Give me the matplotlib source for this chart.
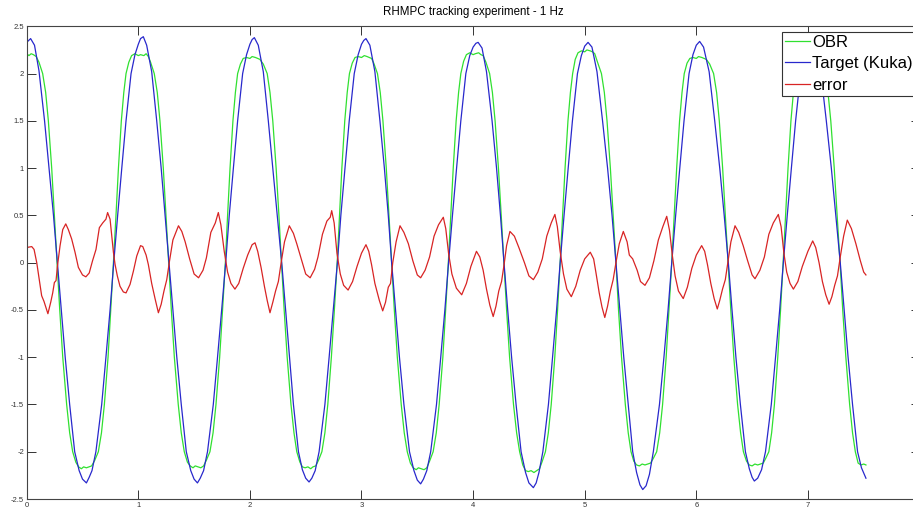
import numpy as np
import matplotlib.pyplot as plt

plt.rcParams['font.family'] = ['Liberation Sans', 'DejaVu Sans']
plt.rcParams['axes.unicode_minus'] = False

title = 'RHMPC tracking experiment - 1 Hz'
labels = ['OBR', 'Target (Kuka)', 'error']
x_ticks = [0, 1, 2, 3, 4, 5, 6, 7]
y_ticks = [-2.5, -2, -1.5, -1, -0.5, 0, 0.5, 1, 1.5, 2, 2.5]
y_tick_labels = ['-2.5', '-2', '-1.5', '-1', '-0.5', '0', '0.5', '1', '1.5', '2', '2.5']

# (time, value) pairs
obr = np.array([
    (0.00, 2.21), (0.02, 2.19), (0.04, 2.21), (0.06, 2.20), (0.085, 2.18), (0.11, 2.12),
    (0.143, 2.00), (0.17, 1.80), (0.194, 1.50), (0.224, 1.00), (0.248, 0.50), (0.272, 0.00),
    (0.296, -0.50), (0.323, -1.00), (0.358, -1.50), (0.385, -1.80), (0.412, -2.00), (0.44, -2.11),
    (0.465, -2.16), (0.49, -2.18), (0.51, -2.16), (0.535, -2.17), (0.56, -2.16), (0.582, -2.15),
    (0.61, -2.09), (0.642, -2.00), (0.67, -1.80), (0.696, -1.50), (0.729, -1.00), (0.753, -0.50),
    (0.777, 0.00), (0.80, 0.50), (0.822, 1.00), (0.848, 1.50), (0.87, 1.80), (0.89, 2.00),
    (0.915, 2.12), (0.94, 2.19), (0.97, 2.21), (1.00, 2.19), (1.02, 2.20), (1.05, 2.19),
    (1.07, 2.21), (1.09, 2.18),
    (1.11, 2.12), (1.143, 2.00), (1.17, 1.80), (1.194, 1.50), (1.224, 1.00), (1.248, 0.50),
    (1.272, 0.00), (1.296, -0.50), (1.323, -1.00), (1.358, -1.50), (1.385, -1.80), (1.412, -2.00),
    (1.44, -2.11), (1.465, -2.15), (1.49, -2.17), (1.51, -2.15), (1.535, -2.16), (1.56, -2.17),
    (1.585, -2.15), (1.61, -2.09), (1.642, -2.00), (1.67, -1.80), (1.696, -1.50), (1.729, -1.00),
    (1.755, -0.50), (1.78, 0.00), (1.80, 0.50), (1.822, 1.00), (1.848, 1.50), (1.87, 1.80),
    (1.89, 2.00), (1.915, 2.10), (1.94, 2.16), (1.97, 2.17), (2.00, 2.16), (2.02, 2.18),
    (2.05, 2.17), (2.07, 2.16), (2.09, 2.15),
    (2.12, 2.10), (2.155, 2.00), (2.18, 1.80), (2.205, 1.50), (2.235, 1.00), (2.26, 0.50),
    (2.283, 0.00), (2.307, -0.50), (2.334, -1.00), (2.368, -1.50), (2.395, -1.80), (2.42, -2.00),
    (2.448, -2.11), (2.47, -2.16), (2.495, -2.17), (2.52, -2.16), (2.545, -2.18), (2.565, -2.16),
    (2.59, -2.15), (2.615, -2.09), (2.645, -2.00), (2.672, -1.80), (2.698, -1.50), (2.73, -1.00),
    (2.757, -0.50), (2.782, 0.00), (2.803, 0.50), (2.824, 1.00), (2.85, 1.50), (2.872, 1.80),
    (2.892, 2.00), (2.917, 2.11), (2.942, 2.17), (2.97, 2.18), (3.00, 2.17), (3.025, 2.19),
    (3.05, 2.18), (3.07, 2.17), (3.09, 2.16),
    (3.11, 2.11), (3.143, 2.00), (3.168, 1.80), (3.192, 1.50), (3.222, 1.00), (3.246, 0.50),
    (3.27, 0.00), (3.294, -0.50), (3.321, -1.00), (3.356, -1.50), (3.383, -1.80), (3.41, -2.00),
    (3.438, -2.12), (3.463, -2.17), (3.49, -2.19), (3.51, -2.17), (3.535, -2.18), (3.56, -2.19),
    (3.585, -2.17), (3.61, -2.10), (3.642, -2.00), (3.67, -1.80), (3.696, -1.50), (3.729, -1.00),
    (3.754, -0.50), (3.778, 0.00), (3.80, 0.50), (3.822, 1.00), (3.848, 1.50), (3.87, 1.80),
    (3.89, 2.00), (3.915, 2.13), (3.94, 2.20), (3.97, 2.22), (4.00, 2.20), (4.02, 2.21),
    (4.05, 2.22), (4.07, 2.20), (4.09, 2.19),
    (4.115, 2.12), (4.148, 2.00), (4.173, 1.80), (4.197, 1.50), (4.227, 1.00), (4.252, 0.50),
    (4.276, 0.00), (4.30, -0.50), (4.327, -1.00), (4.362, -1.50), (4.39, -1.80), (4.417, -2.00),
    (4.445, -2.14), (4.47, -2.20), (4.495, -2.21), (4.52, -2.20), (4.545, -2.22), (4.57, -2.20),
    (4.595, -2.18), (4.62, -2.10), (4.648, -2.00), (4.674, -1.80), (4.70, -1.50), (4.732, -1.00),
    (4.757, -0.50), (4.78, 0.00), (4.802, 0.50), (4.824, 1.00), (4.85, 1.50), (4.872, 1.80),
    (4.892, 2.00), (4.915, 2.15), (4.94, 2.22), (4.97, 2.24), (5.00, 2.23), (5.02, 2.25),
    (5.05, 2.24), (5.07, 2.23), (5.09, 2.21),
    (5.115, 2.12), (5.15, 2.00), (5.176, 1.80), (5.20, 1.50), (5.23, 1.00), (5.255, 0.50),
    (5.28, 0.00), (5.303, -0.50), (5.33, -1.00), (5.364, -1.50), (5.39, -1.80), (5.415, -2.00),
    (5.44, -2.10), (5.465, -2.14), (5.49, -2.15), (5.515, -2.13), (5.54, -2.14), (5.565, -2.13),
    (5.59, -2.12), (5.615, -2.07), (5.645, -2.00), (5.672, -1.80), (5.698, -1.50), (5.73, -1.00),
    (5.755, -0.50), (5.78, 0.00), (5.802, 0.50), (5.824, 1.00), (5.85, 1.50), (5.872, 1.80),
    (5.892, 2.00), (5.917, 2.11), (5.942, 2.16), (5.97, 2.17), (6.00, 2.16), (6.02, 2.18),
    (6.05, 2.17), (6.07, 2.16), (6.09, 2.15),
    (6.12, 2.10), (6.155, 2.00), (6.182, 1.80), (6.206, 1.50), (6.236, 1.00), (6.26, 0.50),
    (6.285, 0.00), (6.309, -0.50), (6.336, -1.00), (6.37, -1.50), (6.397, -1.80), (6.422, -2.00),
    (6.45, -2.10), (6.475, -2.14), (6.50, -2.15), (6.525, -2.13), (6.55, -2.14), (6.575, -2.13),
    (6.60, -2.12), (6.622, -2.07), (6.65, -2.00), (6.675, -1.80), (6.70, -1.50), (6.73, -1.00),
    (6.755, -0.50), (6.778, 0.00), (6.80, 0.50), (6.822, 1.00), (6.848, 1.50), (6.87, 1.80),
    (6.89, 2.00), (6.915, 2.12), (6.94, 2.18), (6.97, 2.20), (7.00, 2.19), (7.02, 2.20),
    (7.05, 2.19), (7.07, 2.18), (7.09, 2.16),
    (7.12, 2.10), (7.155, 2.00), (7.18, 1.80), (7.205, 1.50), (7.236, 1.00), (7.262, 0.50),
    (7.288, 0.00), (7.312, -0.50), (7.34, -1.00), (7.374, -1.50), (7.40, -1.80), (7.425, -2.00),
    (7.45, -2.12), (7.475, -2.14), (7.50, -2.13), (7.52, -2.14),
])

kuka = np.array([
    (0.00, 2.33), (0.035, 2.37), (0.07, 2.30), (0.11, 2.03), (0.16, 1.50), (0.20, 1.00),
    (0.24, 0.50), (0.275, 0.00), (0.31, -0.50), (0.345, -1.00), (0.385, -1.50), (0.43, -2.00),
    (0.47, -2.20), (0.50, -2.29), (0.535, -2.33), (0.56, -2.27), (0.585, -2.20), (0.62, -2.00),
    (0.672, -1.50), (0.71, -1.00), (0.747, -0.50), (0.78, 0.00), (0.815, 0.50), (0.852, 1.00),
    (0.89, 1.50), (0.935, 2.00), (0.97, 2.20), (1.00, 2.31), (1.02, 2.37), (1.045, 2.39),
    (1.075, 2.30), (1.12, 2.02), (1.165, 1.50), (1.205, 1.00), (1.24, 0.50), (1.275, 0.00),
    (1.31, -0.50), (1.345, -1.00), (1.385, -1.50), (1.43, -2.00), (1.47, -2.20), (1.50, -2.29),
    (1.53, -2.33), (1.555, -2.28), (1.585, -2.20), (1.62, -2.00), (1.672, -1.50), (1.71, -1.00),
    (1.747, -0.50), (1.783, 0.00), (1.815, 0.50), (1.852, 1.00), (1.89, 1.50), (1.935, 2.00),
    (1.97, 2.20), (2.00, 2.31), (2.02, 2.36), (2.04, 2.38),
    (2.075, 2.30), (2.12, 2.02), (2.165, 1.50), (2.205, 1.00), (2.245, 0.50), (2.285, 0.00),
    (2.32, -0.50), (2.355, -1.00), (2.39, -1.50), (2.435, -2.00), (2.47, -2.19), (2.50, -2.28),
    (2.53, -2.32), (2.555, -2.28), (2.585, -2.20), (2.62, -2.00), (2.672, -1.50), (2.71, -1.00),
    (2.747, -0.50), (2.784, 0.00), (2.815, 0.50), (2.852, 1.00), (2.89, 1.50), (2.935, 2.00),
    (2.97, 2.20), (3.00, 2.31), (3.02, 2.35), (3.04, 2.37),
    (3.075, 2.30), (3.12, 2.02), (3.165, 1.50), (3.205, 1.00), (3.24, 0.50), (3.27, 0.00),
    (3.305, -0.50), (3.34, -1.00), (3.38, -1.50), (3.43, -2.00), (3.47, -2.20), (3.50, -2.30),
    (3.53, -2.34), (3.555, -2.29), (3.585, -2.20), (3.62, -2.00), (3.672, -1.50), (3.71, -1.00),
    (3.747, -0.50), (3.78, 0.00), (3.815, 0.50), (3.852, 1.00), (3.89, 1.50), (3.935, 2.00),
    (3.97, 2.19), (4.00, 2.28), (4.025, 2.32), (4.045, 2.33),
    (4.08, 2.27), (4.12, 2.02), (4.17, 1.50), (4.21, 1.00), (4.245, 0.50), (4.277, 0.00),
    (4.31, -0.50), (4.345, -1.00), (4.385, -1.50), (4.43, -2.00), (4.47, -2.22), (4.50, -2.33),
    (4.54, -2.38), (4.565, -2.33), (4.59, -2.22), (4.625, -2.00), (4.675, -1.50), (4.712, -1.00),
    (4.748, -0.50), (4.78, 0.00), (4.815, 0.50), (4.852, 1.00), (4.89, 1.50), (4.935, 2.00),
    (4.97, 2.19), (5.00, 2.29), (5.03, 2.33),
    (5.065, 2.28), (5.11, 2.02), (5.16, 1.50), (5.205, 1.00), (5.245, 0.50), (5.28, 0.00),
    (5.315, -0.50), (5.35, -1.00), (5.39, -1.50), (5.43, -2.00), (5.465, -2.22), (5.495, -2.35),
    (5.52, -2.40), (5.55, -2.36), (5.58, -2.24), (5.615, -2.00), (5.67, -1.50), (5.71, -1.00),
    (5.747, -0.50), (5.78, 0.00), (5.815, 0.50), (5.852, 1.00), (5.89, 1.50), (5.935, 2.00),
    (5.97, 2.20), (6.00, 2.30), (6.03, 2.34),
    (6.065, 2.28), (6.115, 2.02), (6.165, 1.50), (6.21, 1.00), (6.25, 0.50), (6.287, 0.00),
    (6.32, -0.50), (6.355, -1.00), (6.395, -1.50), (6.44, -2.00), (6.475, -2.18), (6.50, -2.27),
    (6.52, -2.31), (6.55, -2.28), (6.585, -2.19), (6.62, -2.00), (6.672, -1.50), (6.71, -1.00),
    (6.747, -0.50), (6.78, 0.00), (6.815, 0.50), (6.852, 1.00), (6.89, 1.50), (6.935, 2.00),
    (6.97, 2.20), (7.00, 2.31), (7.03, 2.35),
    (7.065, 2.29), (7.115, 2.02), (7.165, 1.50), (7.21, 1.00), (7.25, 0.50), (7.29, 0.00),
    (7.325, -0.50), (7.36, -1.00), (7.40, -1.50), (7.445, -2.00), (7.48, -2.17), (7.52, -2.28),
])

err = np.array([
    (0.00, 0.16), (0.045, 0.17), (0.066, 0.14), (0.09, 0.00), (0.113, -0.18), (0.134, -0.35),
    (0.155, -0.41), (0.19, -0.54), (0.215, -0.42), (0.233, -0.32), (0.248, -0.21), (0.263, -0.19),
    (0.275, -0.04), (0.299, 0.18), (0.323, 0.35), (0.35, 0.41), (0.373, 0.35), (0.403, 0.25),
    (0.433, 0.11), (0.463, -0.05), (0.50, -0.13), (0.53, -0.15), (0.56, -0.11), (0.59, 0.02),
    (0.621, 0.14), (0.651, 0.37), (0.681, 0.42), (0.71, 0.46), (0.725, 0.53), (0.747, 0.46),
    (0.762, 0.28), (0.777, 0.11), (0.792, -0.02), (0.812, -0.14), (0.836, -0.25), (0.866, -0.31),
    (0.89, -0.32), (0.926, -0.23), (0.956, -0.09), (0.986, 0.07), (1.02, 0.18), (1.04, 0.17),
    (1.07, 0.08), (1.09, -0.02), (1.12, -0.22), (1.15, -0.38), (1.18, -0.53), (1.205, -0.44),
    (1.23, -0.30), (1.255, -0.18), (1.28, 0.02), (1.31, 0.24), (1.36, 0.39), (1.39, 0.33),
    (1.42, 0.22), (1.46, 0.04), (1.50, -0.12), (1.54, -0.16), (1.58, -0.08), (1.61, 0.05),
    (1.65, 0.32), (1.69, 0.42), (1.717, 0.53), (1.74, 0.40), (1.77, 0.12), (1.80, -0.10),
    (1.83, -0.22), (1.866, -0.28), (1.90, -0.22), (1.94, -0.06), (1.98, 0.08), (2.02, 0.19),
    (2.046, 0.21),
    (2.07, 0.12), (2.10, -0.05), (2.13, -0.25), (2.155, -0.40), (2.18, -0.53), (2.205, -0.42),
    (2.23, -0.30), (2.255, -0.20), (2.28, 0.00), (2.31, 0.22), (2.353, 0.39), (2.39, 0.31),
    (2.42, 0.20), (2.46, 0.04), (2.50, -0.12), (2.54, -0.16), (2.58, -0.07), (2.61, 0.06),
    (2.65, 0.30), (2.69, 0.44), (2.72, 0.48), (2.733, 0.55), (2.755, 0.42), (2.78, 0.10),
    (2.81, -0.12), (2.84, -0.24), (2.88, -0.29), (2.92, -0.20), (2.96, -0.04), (3.00, 0.10),
    (3.04, 0.19),
    (3.065, 0.12), (3.09, -0.02), (3.12, -0.22), (3.16, -0.40), (3.19, -0.51), (3.215, -0.42),
    (3.24, -0.26), (3.26, -0.22), (3.28, 0.00), (3.31, 0.22), (3.345, 0.39), (3.38, 0.32),
    (3.42, 0.20), (3.46, 0.02), (3.50, -0.13), (3.53, -0.16), (3.57, -0.08), (3.61, 0.06),
    (3.65, 0.28), (3.69, 0.40), (3.733, 0.48), (3.755, 0.36), (3.78, 0.10), (3.81, -0.12),
    (3.85, -0.27), (3.898, -0.34), (3.94, -0.22), (3.98, -0.04), (4.03, 0.12),
    (4.06, 0.06), (4.09, -0.08), (4.12, -0.28), (4.15, -0.45), (4.18, -0.57), (4.205, -0.46),
    (4.23, -0.30), (4.255, -0.20), (4.28, 0.00), (4.30, 0.18), (4.33, 0.33), (4.37, 0.28),
    (4.41, 0.16), (4.46, 0.00), (4.50, -0.14), (4.54, -0.18), (4.58, -0.10), (4.62, 0.04),
    (4.66, 0.28), (4.70, 0.42), (4.733, 0.51), (4.755, 0.38), (4.78, 0.12), (4.81, -0.12),
    (4.84, -0.28), (4.88, -0.36), (4.92, -0.25), (4.96, -0.08), (5.00, 0.04), (5.05, 0.11),
    (5.08, 0.04), (5.10, -0.10), (5.13, -0.32), (5.155, -0.47), (5.18, -0.58), (5.205, -0.46),
    (5.23, -0.30), (5.255, -0.18), (5.28, 0.00), (5.31, 0.20), (5.346, 0.33), (5.38, 0.22),
    (5.40, 0.08), (5.43, 0.04), (5.47, -0.08), (5.50, -0.20), (5.54, -0.24), (5.58, -0.16),
    (5.62, 0.02), (5.66, 0.24), (5.70, 0.38), (5.735, 0.49), (5.76, 0.34), (5.785, 0.08),
    (5.81, -0.14), (5.84, -0.30), (5.883, -0.38), (5.92, -0.26), (5.96, -0.06), (6.00, 0.08),
    (6.048, 0.18),
    (6.075, 0.12), (6.10, -0.02), (6.13, -0.22), (6.16, -0.38), (6.188, -0.49), (6.21, -0.40),
    (6.235, -0.28), (6.26, -0.18), (6.285, 0.02), (6.31, 0.22), (6.347, 0.39), (6.38, 0.32),
    (6.42, 0.18), (6.46, 0.02), (6.50, -0.13), (6.526, -0.17), (6.57, -0.08), (6.61, 0.06),
    (6.65, 0.30), (6.69, 0.42), (6.735, 0.51), (6.76, 0.38), (6.785, 0.10), (6.81, -0.10),
    (6.84, -0.22), (6.87, -0.28), (6.91, -0.20), (6.95, -0.04), (7.00, 0.12), (7.043, 0.23),
    (7.07, 0.16), (7.10, 0.00), (7.13, -0.20), (7.16, -0.34), (7.19, -0.44), (7.215, -0.36),
    (7.24, -0.24), (7.265, -0.14), (7.29, 0.06), (7.32, 0.28), (7.353, 0.45), (7.39, 0.36),
    (7.43, 0.20), (7.47, 0.02), (7.50, -0.10), (7.52, -0.13),
])

fig = plt.figure(figsize=(9.13, 5.11), dpi=100)
# the axes run to x=8, a little past the right edge of the image
ax = fig.add_axes([26.7 / 913, 12 / 511, 892.8 / 913, 472.7 / 511])

ax.plot(obr[:, 0], obr[:, 1], color='#30e030', lw=0.9, label=labels[0])
ax.plot(kuka[:, 0], kuka[:, 1], color='#2828cc', lw=0.9, label=labels[1])
ax.plot(err[:, 0], err[:, 1], color='#d82424', lw=0.9, label=labels[2])

ax.set_xlim(0, 8)
ax.set_ylim(-2.5, 2.5)
ax.set_xticks(x_ticks)
ax.set_xticklabels([str(t) for t in x_ticks])
ax.set_yticks(y_ticks)
ax.set_yticklabels(y_tick_labels)
ax.tick_params(direction='in', length=6.5, width=0.7, labelsize=5.5,
               colors='#333333', top=True, right=True, pad=2)
for s in ax.spines.values():
    s.set_linewidth(0.8)
    s.set_color('#444444')

ax.set_title(title, fontsize=8.3, pad=8)

leg = ax.legend(loc='upper left', bbox_to_anchor=(781.7 / 913, 1 - 31.7 / 511),
                bbox_transform=fig.transFigure, borderaxespad=0, fontsize=12,
                fancybox=False, edgecolor='#333333', framealpha=1,
                borderpad=0.19, handlelength=1.5, handletextpad=0.14, labelspacing=0.38)
leg.get_frame().set_linewidth(0.8)

fig.savefig('out.png', dpi=100)
